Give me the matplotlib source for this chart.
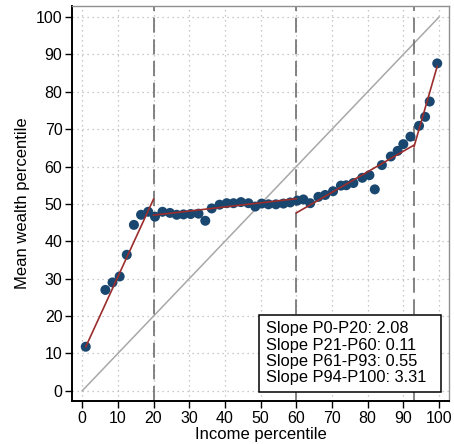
import matplotlib
matplotlib.use("Agg")
from matplotlib import pyplot as plt
from matplotlib.patches import Rectangle
import numpy as np

plt.rcParams['font.family'] = ['Liberation Sans', 'DejaVu Sans']

# binned scatter: income percentile vs mean wealth percentile
income_pct = [1.0, 6.5, 8.5, 10.5, 12.5, 14.5, 16.5, 18.5, 20.4, 22.5,
              24.6, 26.5, 28.4, 30.4, 32.6, 34.5, 36.3, 38.5, 40.5, 42.4,
              44.5, 46.6, 48.5, 50.3, 52.2, 54.3, 56.4, 58.3, 60.3, 62.0,
              63.9, 66.2, 68.1, 70.3, 72.5, 74.0, 76.0, 78.5, 80.5, 82.0,
              84.0, 86.5, 88.4, 90.0, 92.0, 94.4, 96.1, 97.4, 99.5]
wealth_pct = [11.8, 27.0, 29.0, 30.6, 36.4, 44.4, 47.1, 47.9, 46.6, 47.9,
              47.6, 47.1, 47.2, 47.3, 47.4, 45.5, 48.8, 49.8, 50.2, 50.2,
              50.5, 50.2, 49.3, 50.1, 49.9, 49.9, 50.1, 50.4, 50.9, 51.2,
              50.2, 51.9, 52.4, 53.4, 54.9, 55.0, 55.6, 57.0, 57.7, 53.9,
              60.4, 62.7, 64.2, 66.0, 68.0, 70.9, 73.3, 77.4, 87.6]

# piecewise linear fits
seg_start = [1, 20, 60, 93]
seg_end = [20, 60, 93, 99.5]
seg_slope = [2.08, 0.11, 0.55, 3.31]
seg_icept = [9.7, 44.8, 14.6, -242.5]
seg_labels = ['P0-P20', 'P21-P60', 'P61-P93', 'P94-P100']
breaks = [20, 60, 93]

fig = plt.figure(figsize=(4.54, 4.44), dpi=100)
ax = fig.add_axes([0.159, 0.097, 0.830, 0.889])

ax.set_xlim(-2.8, 102.8)
ax.set_ylim(-2.7, 102.9)
ax.set_xticks(np.arange(0, 101, 10))
ax.set_yticks(np.arange(0, 101, 10))
ax.grid(True, linestyle=(0, (1, 3)), color='#b8b8b8', linewidth=0.9)
ax.set_axisbelow(True)

ax.plot([0, 100], [0, 100], color='#a8a8a8', linewidth=1.1, zorder=2)
for b in breaks:
    ax.axvline(b, color='#6e6e6e', linestyle=(0, (9, 4)), linewidth=1.2, zorder=2)

ax.scatter(income_pct, wealth_pct, s=52, color='#1a476f', zorder=3,
           edgecolors='none')

for x0, x1, b, a in zip(seg_start, seg_end, seg_slope, seg_icept):
    xs = np.array([x0, x1])
    ax.plot(xs, a + b * xs, color='#9b2d2d', linewidth=1.2, zorder=4)

# slope box
ax.add_patch(Rectangle((0.496, 0.023), 0.483, 0.195, transform=ax.transAxes,
                       facecolor='white', edgecolor='black', linewidth=1.1,
                       zorder=5))
txt = '\n'.join('Slope %s: %.2f' % (l, s) for l, s in zip(seg_labels, seg_slope))
ax.text(0.5146, 0.121, txt, transform=ax.transAxes, ha='left', va='center',
        fontsize=11.8, linespacing=1.1, zorder=6)

for side in ['top', 'right']:
    ax.spines[side].set_color('#909090')
    ax.spines[side].set_linewidth(1.0)
for side in ['left', 'bottom']:
    ax.spines[side].set_color('black')
    ax.spines[side].set_linewidth(1.4)

ax.tick_params(direction='out', length=5, width=1.0, labelsize=11.5, pad=2)
ax.set_xlabel('Income percentile', fontsize=12, labelpad=1)
ax.set_ylabel('Mean wealth percentile', fontsize=12, labelpad=4)

plt.savefig('out.png', dpi=100)
